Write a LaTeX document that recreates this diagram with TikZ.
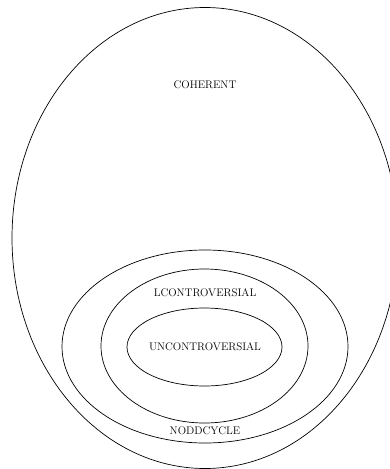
\documentclass[tikz,border=0pt]{standalone}
\usetikzlibrary{shapes.geometric}
\begin{document}
\begin{tikzpicture}[x=1pt,y=-1pt,
  setbox/.style={draw, ellipse, line width=0.7pt, inner sep=0pt},
  lbl/.style={font=\fontsize{11}{13}\selectfont, inner sep=0pt}]
\useasboundingbox (0,0) rectangle (390,469);
\node[setbox, minimum width=386pt, minimum height=461pt] (coh) at (205,238) {};
\node[setbox, minimum width=286pt, minimum height=193pt] (nod) at (205,346.5) {};
\node[setbox, minimum width=207pt, minimum height=154pt] (lcon) at (204.5,346) {};
\node[setbox, minimum width=155pt, minimum height=78pt] (ucon) at (204.5,347) {};
\node[lbl] (tcoh) at (205,85) {COHERENT};
\node[lbl] (tlcon) at (205,293) {LCONTROVERSIAL};
\node[lbl] (tucon) at (205,347) {UNCONTROVERSIAL};
\node[lbl] (tnod) at (205,431) {NODDCYCLE};
\end{tikzpicture}
\end{document}
